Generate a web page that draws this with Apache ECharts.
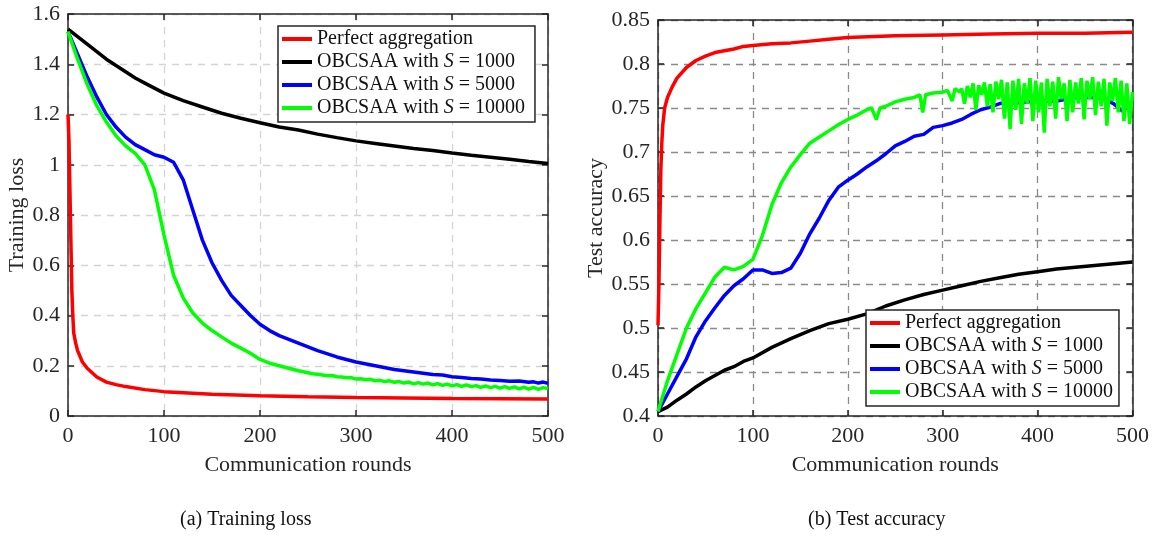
<!DOCTYPE html>
<html><head><meta charset="utf-8">
<script src="https://cdn.jsdelivr.net/npm/echarts@6/dist/echarts.min.js"></script>
<style>html,body{margin:0;padding:0;background:#fff}#c{width:1152px;height:536px}</style>
</head><body><div id="c"></div>
<script>
// ---------- DATA ----------
const seriesNames = ['Perfect aggregation', 'OBCSAA with S = 1000', 'OBCSAA with S = 5000', 'OBCSAA with S = 10000'];
const xTicks = [0, 100, 200, 300, 400, 500];
const lossTicks = [0, 0.2, 0.4, 0.6, 0.8, 1, 1.2, 1.4, 1.6];
const accTicks = [0.4, 0.45, 0.5, 0.55, 0.6, 0.65, 0.7, 0.75, 0.8, 0.85];
const captions = ['(a) Training loss', '(b) Test accuracy'];

// Training loss
const lossRedX = [0, 1, 2, 3, 4, 5, 6, 8, 10, 15, 20, 30, 40, 50, 60, 80, 100, 150, 200, 250, 300, 350, 400, 450, 500];
const lossRedY = [1.2, 1.1, 0.9, 0.7, 0.5, 0.4, 0.33, 0.29, 0.26, 0.215, 0.19, 0.155, 0.135, 0.125, 0.117, 0.105, 0.097, 0.087, 0.081, 0.077, 0.074, 0.072, 0.070, 0.069, 0.068];

const lossBlackX = [0, 10, 20, 30, 40, 50, 60, 70, 80, 90, 100, 120, 140, 160, 180, 200, 220, 240, 260, 280, 300, 320, 340, 360, 380, 400, 420, 440, 460, 480, 500];
const lossBlackY = [1.54, 1.51, 1.48, 1.45, 1.42, 1.395, 1.37, 1.345, 1.325, 1.305, 1.285, 1.255, 1.23, 1.205, 1.185, 1.167, 1.15, 1.138, 1.122, 1.108, 1.095, 1.085, 1.075, 1.065, 1.057, 1.047, 1.038, 1.03, 1.022, 1.013, 1.005];

const lossBlueX = [0, 10, 20, 30, 40, 50, 60, 70, 80, 90, 100, 110, 120, 130, 140, 150, 160, 170, 180, 190, 200, 210, 220, 230, 240, 250, 260, 280, 300, 320, 340, 360, 380, 390, 400, 410, 420, 430, 440, 450, 460, 470, 480, 485, 490, 495, 500];
const lossBlueY = [1.53, 1.44, 1.35, 1.27, 1.2, 1.15, 1.11, 1.08, 1.06, 1.04, 1.03, 1.01, 0.94, 0.82, 0.70, 0.61, 0.54, 0.48, 0.44, 0.40, 0.365, 0.34, 0.32, 0.305, 0.29, 0.275, 0.26, 0.235, 0.215, 0.2, 0.185, 0.175, 0.165, 0.163, 0.156, 0.153, 0.149, 0.147, 0.143, 0.141, 0.138, 0.139, 0.134, 0.136, 0.131, 0.135, 0.13];

const lossGreenX = [0, 10, 20, 30, 40, 50, 60, 70, 80, 90, 100, 110, 120, 130, 140, 150, 160, 170, 180, 190, 200, 210, 220, 230, 240, 250,
  255, 260, 265, 270, 275, 280, 285, 290, 295, 300, 305, 310, 315, 320, 325, 330, 335, 340, 345, 350, 355, 360, 365, 370, 375, 380, 385, 390, 395, 400,
  405, 410, 415, 420, 425, 430, 435, 440, 445, 450, 455, 460, 465, 470, 475, 480, 485, 490, 495, 500];
const lossGreenY = [1.53, 1.42, 1.32, 1.235, 1.17, 1.115, 1.075, 1.045, 1.0, 0.90, 0.72, 0.56, 0.47, 0.41, 0.37, 0.34, 0.315, 0.29, 0.27, 0.25, 0.225, 0.21, 0.2, 0.19, 0.18, 0.172,
  0.168, 0.166, 0.163, 0.160, 0.161, 0.156, 0.155, 0.152, 0.153, 0.147, 0.148, 0.144, 0.146, 0.140, 0.142, 0.137, 0.140, 0.134, 0.137, 0.131, 0.135, 0.128, 0.133, 0.127, 0.131, 0.124, 0.129, 0.122, 0.127, 0.120,
  0.125, 0.118, 0.124, 0.117, 0.121, 0.114, 0.120, 0.113, 0.118, 0.111, 0.117, 0.110, 0.116, 0.108, 0.115, 0.107, 0.114, 0.106, 0.113, 0.109];

// Test accuracy
const accRedX = [0, 1, 2, 3, 4, 5, 7, 10, 15, 20, 30, 40, 50, 60, 70, 80, 90, 100, 120, 140, 160, 180, 200, 250, 300, 350, 400, 450, 500];
const accRedY = [0.503, 0.55, 0.62, 0.68, 0.71, 0.73, 0.75, 0.762, 0.774, 0.784, 0.796, 0.804, 0.809, 0.813, 0.815, 0.817, 0.82, 0.821, 0.823, 0.824, 0.826, 0.828, 0.83, 0.832, 0.833, 0.834, 0.835, 0.835, 0.836];

const accBlackX = [0, 10, 20, 30, 40, 50, 60, 70, 80, 90, 100, 120, 140, 160, 180, 200, 220, 240, 260, 280, 300, 320, 340, 360, 380, 400, 420, 440, 460, 480, 500];
const accBlackY = [0.405, 0.41, 0.418, 0.425, 0.433, 0.44, 0.446, 0.452, 0.456, 0.462, 0.466, 0.478, 0.488, 0.497, 0.505, 0.51, 0.516, 0.525, 0.532, 0.538, 0.543, 0.548, 0.553, 0.557, 0.561, 0.564, 0.567, 0.569, 0.571, 0.573, 0.575];

const accBlueX = [0, 10, 20, 30, 40, 50, 60, 70, 80, 90, 100, 110, 120, 130, 140, 150, 160, 170, 180, 190, 200, 210, 220, 230, 240, 250, 260, 270, 280, 290, 300, 310, 320, 330, 340, 350, 360, 370, 380, 390, 400, 420, 440, 460, 470, 480, 490, 500];
const accBlueY = [0.405, 0.425, 0.445, 0.465, 0.49, 0.508, 0.523, 0.537, 0.548, 0.556, 0.566, 0.566, 0.562, 0.563, 0.568, 0.585, 0.607, 0.625, 0.645, 0.66, 0.668, 0.675, 0.683, 0.69, 0.698, 0.707, 0.712, 0.718, 0.72, 0.728, 0.73, 0.733, 0.737, 0.743, 0.748, 0.751, 0.755, 0.756, 0.756, 0.757, 0.758, 0.758, 0.762, 0.762, 0.76, 0.755, 0.746, 0.758];

const accGreenX = [0, 10, 20, 30, 40, 50, 60, 70, 80, 90, 100, 110, 120, 130, 140, 150, 160, 170, 180, 190, 200, 210, 220, 225, 230, 234, 240, 250, 260, 270, 276, 279, 282, 290, 300, 305, 310, 313, 318,
  320, 323, 326, 329, 332, 335, 338, 341, 344, 347, 350, 353, 356, 359, 362, 365, 368, 371, 374, 377, 380, 383, 386, 389, 392, 395, 398, 401, 404, 407, 410, 413, 416, 419,
  422, 425, 428, 431, 434, 437, 440, 443, 446, 449, 452, 455, 458, 461, 464, 467, 470, 473, 476, 479, 482, 485, 488, 491, 494, 497, 500];
const accGreenY = [0.405, 0.44, 0.47, 0.5, 0.522, 0.54, 0.558, 0.569, 0.566, 0.57, 0.578, 0.605, 0.64, 0.665, 0.683, 0.697, 0.71, 0.717, 0.724, 0.731, 0.737, 0.742, 0.748, 0.75, 0.737, 0.75, 0.752, 0.757, 0.76, 0.762, 0.765, 0.745, 0.765, 0.767, 0.768, 0.77, 0.758, 0.772, 0.768,
  0.772, 0.755, 0.775, 0.762, 0.778, 0.748, 0.776, 0.765, 0.779, 0.752, 0.777, 0.745, 0.780, 0.760, 0.782, 0.738, 0.779, 0.726, 0.781, 0.748, 0.783, 0.732, 0.778, 0.755, 0.784, 0.735, 0.781, 0.745, 0.779, 0.722, 0.783, 0.752, 0.780, 0.738,
  0.785, 0.760, 0.778, 0.735, 0.782, 0.745, 0.779, 0.755, 0.784, 0.737, 0.781, 0.760, 0.785, 0.742, 0.780, 0.752, 0.783, 0.730, 0.779, 0.758, 0.784, 0.745, 0.781, 0.735, 0.778, 0.732, 0.768];

const colors = ['#ff0000', '#000000', '#0000ff', '#00ff00'];

// ---------- CHART ----------
const FONT = 'Liberation Serif';
const AX = '#262626';
function pairs(xs, ys) { return xs.map((x, i) => [x, ys[i]]); }

const grids = [
  { left: 68, top: 14, width: 480, height: 402 },
  { left: 658, top: 20, width: 475, height: 396 }
];

function xAxes(gi, gridColor) {
  return [
    {
      type: 'value', gridIndex: gi, min: 0, max: 500, interval: 100, position: 'bottom',
      name: 'Communication rounds', nameLocation: 'middle', nameGap: 38,
      nameTextStyle: { fontFamily: FONT, fontSize: 22, color: AX },
      axisLine: { onZero: false, lineStyle: { color: AX, width: 1.5 } },
      axisTick: { inside: true, length: 6, lineStyle: { color: AX, width: 1.5 } },
      axisLabel: { fontFamily: FONT, fontSize: 22, color: AX, margin: 9 },
      splitLine: { show: true, lineStyle: { color: gridColor, width: 1.3, type: [7, 6] } }
    },
    {
      type: 'value', gridIndex: gi, min: 0, max: 500, interval: 100, position: 'top',
      axisLine: { onZero: false, lineStyle: { color: AX, width: 1.5 } },
      axisTick: { inside: true, length: 6, lineStyle: { color: AX, width: 1.5 } },
      axisLabel: { show: false }, splitLine: { show: false }
    }
  ];
}
function yAxes(gi, min, max, interval, name, nameGap, gridColor) {
  return [
    {
      type: 'value', gridIndex: gi, min: min, max: max, interval: interval, position: 'left',
      name: name, nameLocation: 'middle', nameGap: nameGap,
      nameTextStyle: { fontFamily: FONT, fontSize: 22, color: AX },
      axisLine: { show: true, onZero: false, lineStyle: { color: AX, width: 1.5 } },
      axisTick: { show: true, inside: true, length: 6, lineStyle: { color: AX, width: 1.5 } },
      axisLabel: { fontFamily: FONT, fontSize: 22, color: AX, margin: 8 },
      splitLine: { show: true, lineStyle: { color: gridColor, width: 1.3, type: [7, 6] } }
    },
    {
      type: 'value', gridIndex: gi, min: min, max: max, interval: interval, position: 'right',
      axisLine: { show: true, onZero: false, lineStyle: { color: AX, width: 1.5 } },
      axisTick: { show: true, inside: true, length: 6, lineStyle: { color: AX, width: 1.5 } },
      axisLabel: { show: false }, splitLine: { show: false }
    }
  ];
}

function line(name, color, data, xi, yi) {
  return {
    type: 'line', name: name, xAxisIndex: xi, yAxisIndex: yi, data: data,
    showSymbol: false, symbol: 'none', smooth: false,
    lineStyle: { color: color, width: 3.5 }, itemStyle: { color: color },
    animation: false
  };
}

const lossData = [pairs(lossRedX, lossRedY), pairs(lossBlackX, lossBlackY), pairs(lossBlueX, lossBlueY), pairs(lossGreenX, lossGreenY)];
const accData = [pairs(accRedX, accRedY), pairs(accBlackX, accBlackY), pairs(accBlueX, accBlueY), pairs(accGreenX, accGreenY)];

const series = [];
seriesNames.forEach((n, i) => series.push(line(n, colors[i], lossData[i], 0, 0)));
seriesNames.forEach((n, i) => series.push(line(n, colors[i], accData[i], 2, 2)));

function legendFmt(name) {
  return name.replace(' S ', ' {i|S} ');
}
function legend(left, top, padRight) {
  return {
    orient: 'vertical', left: left, top: top, data: seriesNames,
    icon: 'rect', itemWidth: 30, itemHeight: 4, itemGap: 3,
    padding: [3, padRight, 4, 4],
    backgroundColor: '#fff', borderColor: AX, borderWidth: 1.5, borderRadius: 0,
    selectedMode: false,
    formatter: legendFmt,
    textStyle: {
      fontFamily: FONT, fontSize: 20, color: '#111', lineHeight: 20,
      rich: { i: { fontFamily: FONT, fontStyle: 'italic', fontSize: 20, color: '#111', lineHeight: 20 } }
    }
  };
}

const chart = echarts.init(document.getElementById('c'), null, { renderer: 'canvas' });
chart.setOption({
  animation: false,
  backgroundColor: '#fff',
  grid: grids.map(g => Object.assign({ show: false, containLabel: false }, g)),
  xAxis: [...xAxes(0, '#d4d4d4'), ...xAxes(1, '#8a8a8a')],
  yAxis: [...yAxes(0, 0, 1.6, 0.2, 'Training loss', 38, '#d4d4d4'), ...yAxes(1, 0.4, 0.85, 0.05, 'Test accuracy', 45, '#8a8a8a')],
  legend: [legend(278, 26, 10), legend(866, 310, 6)],
  series: series,
  graphic: [
    { type: 'text', left: 180, top: 510, style: { text: captions[0], font: '20px "Liberation Serif"', fill: '#111' } },
    { type: 'text', left: 808, top: 510, style: { text: captions[1], font: '20px "Liberation Serif"', fill: '#111' } }
  ]
});
</script></body></html>
